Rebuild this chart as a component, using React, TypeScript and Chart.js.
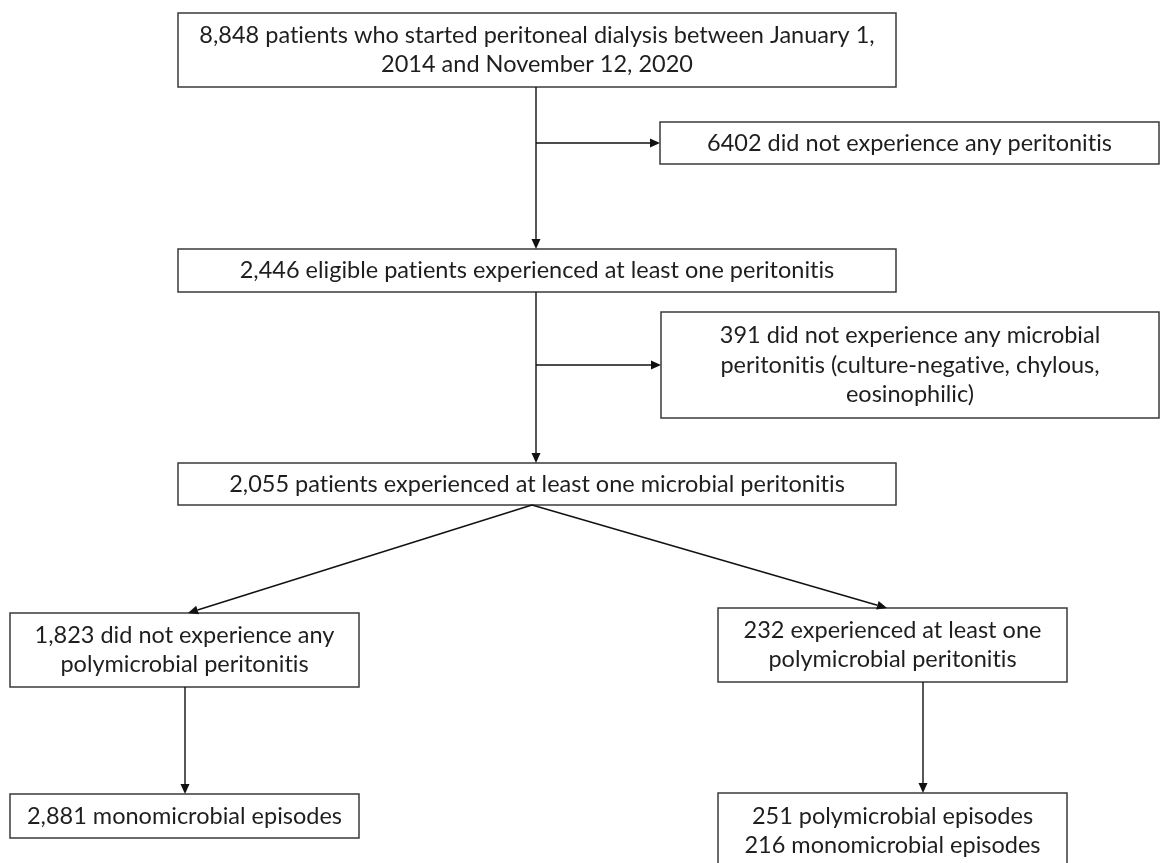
import React, { useEffect, useRef } from "react";
import { Chart, registerables } from "chart.js";

Chart.register(...registerables);

// ---- data: flowchart node texts (patient counts) ----
const nodeCounts = [8848, 6402, 2446, 391, 2055, 1823, 232, 2881, 251, 216];
const nodeLines: string[][] = [
  ["8,848 patients who started peritoneal dialysis between January 1,", "2014 and November 12, 2020"],
  ["6402 did not experience any peritonitis"],
  ["2,446 eligible patients experienced at least one peritonitis"],
  ["391 did not experience any microbial", "peritonitis (culture-negative, chylous,", "eosinophilic)"],
  ["2,055 patients experienced at least one microbial peritonitis"],
  ["1,823 did not experience any", "polymicrobial peritonitis"],
  ["232 experienced at least one", "polymicrobial peritonitis"],
  ["2,881 monomicrobial episodes"],
  ["251 polymicrobial episodes", "216 monomicrobial episodes"],
];

// ---- layout (in scale units, 1 unit = 1 px) ----
const boxLeft = [178, 660, 178, 661, 178, 10, 718, 10, 718];
const boxRight = [896, 1159, 896, 1159, 896, 359, 1067, 359, 1067];
const boxTop = [13, 122, 249, 312, 463, 613, 608, 794, 793];
const boxBottom = [87, 164, 292, 418, 505, 687, 682, 838, 869];

// arrows: [x1, y1, x2, y2]
const arrowSegs: number[][] = [
  [536, 87, 536, 249],
  [536, 143, 660, 143],
  [536, 292, 536, 463],
  [536, 365, 661, 365],
  [532, 505, 188, 613],
  [532, 505, 887, 608],
  [185, 687, 185, 794],
  [923, 682, 923, 793],
];

const W = 1161;
const H = 863;

// break the "ti" ligature of the font so glyphs render separately
const noLig = (s: string) => s.replace(/t(?=[ifl])/g, "t\u200C").replace(/f(?=[ifl])/g, "f\u200C");

const flowPlugin = {
  id: "flowDraw",
  afterDatasetsDraw(chart: any) {
    const { ctx, scales } = chart;
    const sx = scales.x;
    const sy = scales.y;
    const px = (v: number) => sx.getPixelForValue(v);
    const py = (v: number) => sy.getPixelForValue(v);
    ctx.save();
    ctx.lineWidth = 1.5;
    ctx.strokeStyle = "#3a3a3a";
    ctx.fillStyle = "#ffffff";
    for (let i = 0; i < nodeLines.length; i++) {
      const l = px(boxLeft[i]);
      const r = px(boxRight[i]);
      const t = py(boxTop[i]);
      const b = py(boxBottom[i]);
      ctx.fillRect(l, t, r - l, b - t);
      ctx.strokeRect(l, t, r - l, b - t);
    }
    ctx.fillStyle = "#1e1e1e";
    ctx.font = "23.5px Lato";
    ctx.textAlign = "center";
    ctx.textBaseline = "middle";
    const lh = 29.5;
    for (let i = 0; i < nodeLines.length; i++) {
      const cx = (px(boxLeft[i]) + px(boxRight[i])) / 2;
      const cy = (py(boxTop[i]) + py(boxBottom[i])) / 2;
      const lines = nodeLines[i];
      const n = lines.length;
      for (let k = 0; k < n; k++) {
        ctx.fillText(noLig(lines[k]), cx, cy + (k - (n - 1) / 2) * lh);
      }
    }
    ctx.strokeStyle = "#111111";
    ctx.fillStyle = "#111111";
    ctx.lineWidth = 1.4;
    for (const s of arrowSegs) {
      const x1 = px(s[0]);
      const y1 = py(s[1]);
      const x2 = px(s[2]);
      const y2 = py(s[3]);
      const ang = Math.atan2(y2 - y1, x2 - x1);
      const hl = 10;
      const hw = 4.5;
      const bx = x2 - hl * Math.cos(ang);
      const by = y2 - hl * Math.sin(ang);
      ctx.beginPath();
      ctx.moveTo(x1, y1);
      ctx.lineTo(bx, by);
      ctx.stroke();
      ctx.beginPath();
      ctx.moveTo(x2, y2);
      ctx.lineTo(bx + hw * Math.sin(ang), by - hw * Math.cos(ang));
      ctx.lineTo(bx - hw * Math.sin(ang), by + hw * Math.cos(ang));
      ctx.closePath();
      ctx.fill();
    }
    ctx.restore();
  },
};

export default function App() {
  const ref = useRef<HTMLCanvasElement | null>(null);
  useEffect(() => {
    document.body.style.margin = "0";
    const canvas = ref.current;
    if (!canvas) return;
    const centers = nodeLines.map((_, i) => ({
      x: (boxLeft[i] + boxRight[i]) / 2,
      y: (boxTop[i] + boxBottom[i]) / 2,
      count: nodeCounts[i],
    }));
    const chart = new Chart(canvas, {
      type: "scatter",
      data: {
        datasets: [
          {
            label: "nodes",
            data: centers,
            pointRadius: 0,
            pointHoverRadius: 0,
          },
        ],
      },
      options: {
        animation: false,
        responsive: false,
        devicePixelRatio: 1,
        layout: { padding: 0 },
        plugins: { legend: { display: false }, tooltip: { enabled: false } },
        scales: {
          x: { type: "linear", min: 0, max: W, display: false },
          y: { type: "linear", min: 0, max: H, reverse: true, display: false },
        },
      },
      plugins: [flowPlugin],
    });
    return () => chart.destroy();
  }, []);
  return (
    <div style={{ width: W, height: H, background: "#fff" }}>
      <canvas ref={ref} width={W} height={H} style={{ display: "block" }} />
    </div>
  );
}
